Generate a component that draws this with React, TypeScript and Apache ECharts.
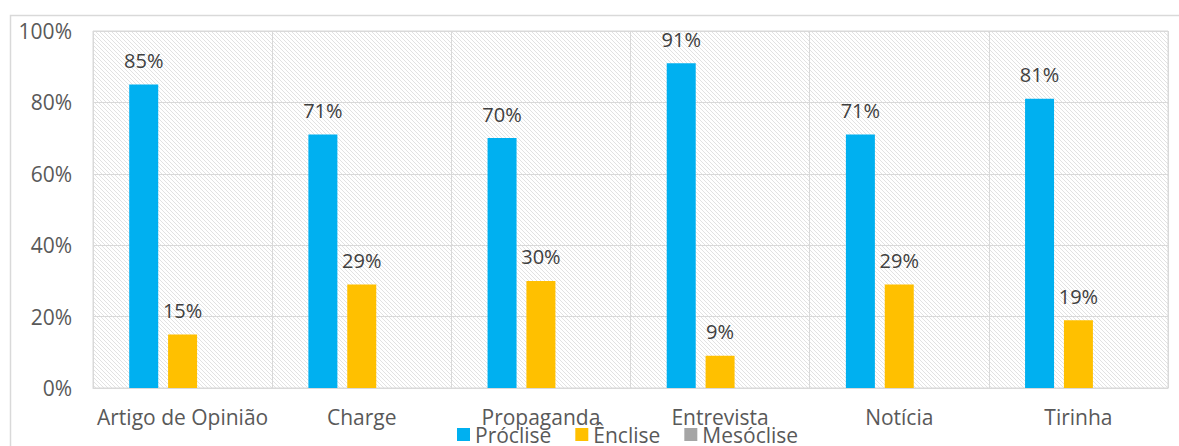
import React, { useEffect, useRef } from "react";
import * as echarts from "echarts";

const categories = ["Artigo de Opinião", "Charge", "Propaganda", "Entrevista", "Notícia", "Tirinha"];
const seriesNames = ["Próclise", "Ênclise", "Mesóclise"];
const procliseValues = [85, 71, 70, 91, 71, 81];
const encliseValues = [15, 29, 30, 9, 29, 19];
const mesocliseValues = [0, 0, 0, 0, 0, 0];
const seriesColors = ["#00B0F0", "#FFC000", "#A5A5A5"];

function makeHatch(): HTMLCanvasElement {
  const c = document.createElement("canvas");
  c.width = 4;
  c.height = 4;
  const ctx = c.getContext("2d")!;
  ctx.fillStyle = "#ffffff";
  ctx.fillRect(0, 0, 4, 4);
  ctx.strokeStyle = "#e2e2e2";
  ctx.lineWidth = 1;
  ctx.beginPath();
  ctx.moveTo(-1, -1);
  ctx.lineTo(5, 5);
  ctx.moveTo(-1, 3);
  ctx.lineTo(1, 5);
  ctx.moveTo(3, -1);
  ctx.lineTo(5, 1);
  ctx.stroke();
  return c;
}

export default function App() {
  const ref = useRef<HTMLDivElement>(null);
  useEffect(() => {
    if (!ref.current) return;
    const chart = echarts.init(ref.current, null, { renderer: "svg" });
    const font = "Open Sans";
    const hatch = makeHatch();
    const label = {
      show: true,
      position: "top",
      distance: 14,
      formatter: (p: any) => p.value + "%",
      color: "#404040",
      fontSize: 20,
      fontFamily: font,
    };
    const allValues = [procliseValues, encliseValues, mesocliseValues];
    chart.setOption({
      animation: false,
      textStyle: { fontFamily: font },
      graphic: [
        {
          type: "rect",
          shape: { x: 10.5, y: 15.5, width: 1190, height: 450 },
          style: { fill: "none", stroke: "#d9d9d9", lineWidth: 1.5 },
          silent: true,
          z: -10,
        },
      ],
      grid: {
        left: 93,
        right: 11,
        top: 31,
        bottom: 58,
        show: true,
        backgroundColor: { image: hatch, repeat: "repeat", imageWidth: 4, imageHeight: 4 } as any,
        borderColor: "#d9d9d9",
        borderWidth: 1,
      },
      legend: {
        data: seriesNames,
        bottom: -4,
        left: 452,
        itemWidth: 13,
        itemHeight: 13,
        itemGap: 24,
        icon: "rect",
        textStyle: { color: "#595959", fontSize: 21, fontFamily: font },
      },
      xAxis: {
        type: "category",
        data: categories,
        axisLine: { show: true, lineStyle: { color: "#d9d9d9" } },
        axisTick: { show: false },
        splitLine: { show: true, lineStyle: { color: "#d9d9d9" } },
        axisLabel: { color: "#595959", fontSize: 21, fontFamily: font, margin: 18, interval: 0 },
      },
      yAxis: {
        type: "value",
        min: 0,
        max: 100,
        interval: 20,
        axisLine: { show: false },
        axisTick: { show: false },
        splitLine: { show: true, lineStyle: { color: "#d9d9d9" } },
        axisLabel: { color: "#595959", fontSize: 21, fontFamily: font, margin: 21, formatter: "{value}%" },
      },
      series: seriesNames.map((name, i) => ({
        name,
        type: "bar",
        data: allValues[i],
        barWidth: 29,
        barGap: "34%",
        itemStyle: { color: seriesColors[i] },
        label: i < 2 ? label : { show: false },
      })),
    });
    return () => chart.dispose();
  }, []);
  return (
    <div
      ref={ref}
      style={{ position: "absolute", left: 0, top: 0, width: 1179, height: 446, background: "#fff" }}
    />
  );
}
